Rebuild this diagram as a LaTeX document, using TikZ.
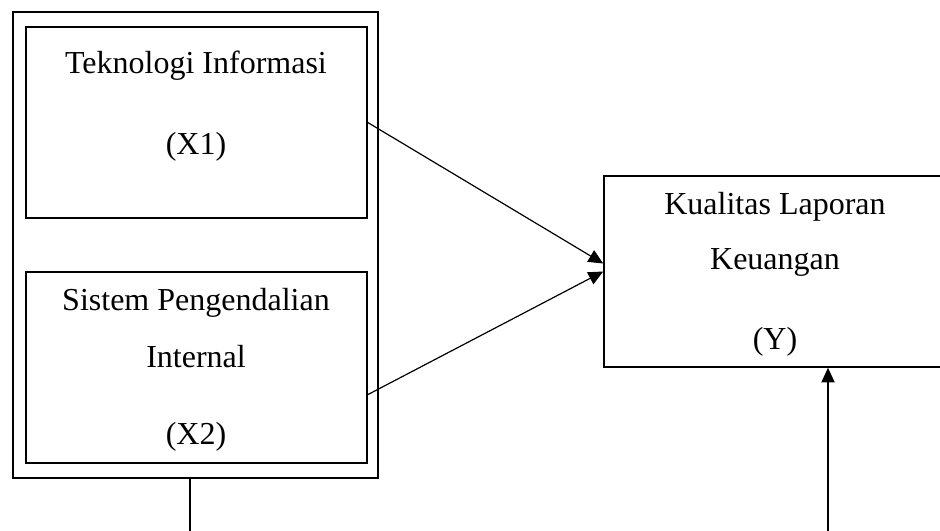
\documentclass[tikz,border=0pt]{standalone}
\usepackage{fontspec}
\setmainfont{Liberation Serif}
\usetikzlibrary{fit,arrows.meta}
\begin{document}
\begin{tikzpicture}[x=0.375pt, y=-0.375pt,
  box/.style={draw, line width=0.6pt, inner sep=0pt},
  lbl/.style={font=\fontsize{12}{14}\selectfont, inner sep=0pt},
  arr/.style={-{Triangle[length=5.5pt,width=5pt]}, line width=0.45pt}]
  \useasboundingbox (0,0) rectangle (940,530);

  % Kotak
  \node[box, fit={(13,12) (378,478)}] (luar) {};
  \node[box, fit={(26,27) (367,218)}] (x1) {};
  \node[box, fit={(26,272) (367,463)}] (x2) {};
  \node[box, fit={(604,176) (946,367)}] (y) {};

  % Teks
  \node[lbl] (x1a) at (196,66) {Teknologi Informasi};
  \node[lbl] (x1b) at (196,147) {(X1)};
  \node[lbl] (x2a) at (196,303) {Sistem Pengendalian};
  \node[lbl] (x2b) at (196,357) {Internal};
  \node[lbl] (x2c) at (196,437) {(X2)};
  \node[lbl] (ya) at (775,207) {Kualitas Laporan};
  \node[lbl] (yb) at (775,262) {Keuangan};
  \node[lbl] (yc) at (775,342) {(Y)};

  % Panah
  \coordinate (b1) at (190,531);
  \coordinate (b2) at (828,531);
  \draw[arr] (x1.east) -- ([yshift=3pt]y.west);
  \draw[arr] (x2.-9.2) -- (y.west);
  \draw[line width=0.45pt] (b1 |- luar.south) -- (b1);
  \draw[arr] (b2) -- (b2 |- y.south);
\end{tikzpicture}
\end{document}
